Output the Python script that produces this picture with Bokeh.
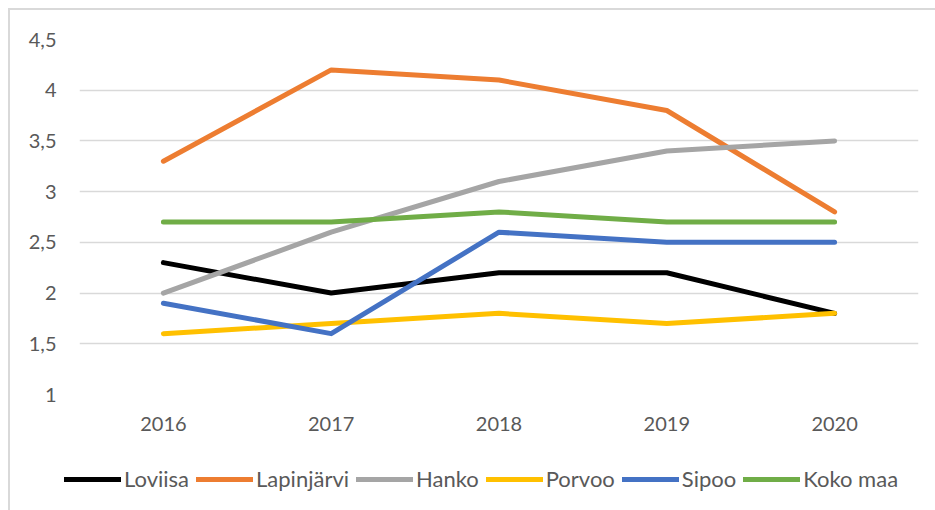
from bokeh.plotting import figure
from bokeh.layouts import column, row
from bokeh.models import FactorRange, Range1d, FixedTicker, Legend, LegendItem
from bokeh.embed import file_html
from bokeh.resources import INLINE

years = ["2016", "2017", "2018", "2019", "2020"]
loviisa = [2.3, 2.0, 2.2, 2.2, 1.8]
lapinjarvi = [3.3, 4.2, 4.1, 3.8, 2.8]
hanko = [2.0, 2.6, 3.1, 3.4, 3.5]
porvoo = [1.6, 1.7, 1.8, 1.7, 1.8]
sipoo = [1.9, 1.6, 2.6, 2.5, 2.5]
koko_maa = [2.7, 2.7, 2.8, 2.7, 2.7]

series_names = ["Loviisa", "Lapinjärvi", "Hanko", "Porvoo", "Sipoo", "Koko maa"]
series_values = [loviisa, lapinjarvi, hanko, porvoo, sipoo, koko_maa]
series_colors = ["#000000", "#ED7D31", "#A5A5A5", "#FFC000", "#4472C4", "#70AD47"]

y_ticks = [1, 1.5, 2, 2.5, 3, 3.5, 4, 4.5]
y_tick_labels = ["1", "1,5", "2", "2,5", "3", "3,5", "4", "4,5"]

FONT = "Lato"
TXT = "#595959"

# main chart
p = figure(
    x_range=FactorRange(*years, range_padding=0),
    y_range=Range1d(1, 4.5),
    width=925, height=440,
    output_backend="svg", toolbar_location=None,
    min_border_left=69, min_border_right=17, min_border_top=29, min_border_bottom=56,
)
p.outline_line_color = None
p.background_fill_color = "white"
p.border_fill_color = "white"

p.xgrid.grid_line_color = None
p.ygrid.grid_line_color = "#d9d9d9"
p.ygrid.grid_line_width = 1.5
p.ygrid.ticker = FixedTicker(ticks=y_ticks)

p.yaxis.ticker = FixedTicker(ticks=y_ticks)
p.yaxis.major_label_overrides = {t: l for t, l in zip(y_ticks, y_tick_labels)}
for ax in (p.xaxis, p.yaxis):
    ax.axis_line_color = None
    ax.major_tick_line_color = None
    ax.minor_tick_line_color = None
    ax.major_tick_out = 0
    ax.major_tick_in = 0
    ax.major_label_text_font = FONT
    ax.major_label_text_font_size = "20px"
    ax.major_label_text_color = TXT
p.yaxis.major_label_standoff = 23
p.xaxis.major_label_standoff = 22

for vals, col in zip(series_values, series_colors):
    p.line(years, vals, line_color=col, line_width=5, line_cap="round", line_join="round")

# legend strip (same series, drawn outside its visible y-range so only the legend shows)
pl = figure(
    x_range=FactorRange(*years, range_padding=0),
    y_range=Range1d(10, 11),
    width=925, height=60,
    x_axis_location=None, y_axis_location=None,
    output_backend="svg", toolbar_location=None,
    min_border_left=0, min_border_right=0, min_border_top=0, min_border_bottom=0,
)
pl.grid.grid_line_color = None
pl.outline_line_color = None
pl.border_fill_color = "white"

items = []
for name, vals, col in zip(series_names, series_values, series_colors):
    r = pl.line(years, vals, line_color=col, line_width=5, line_cap="round")
    items.append(LegendItem(label=name, renderers=[r]))

legend = Legend(
    items=items, orientation="horizontal", location=(54, 18),
    glyph_width=57, glyph_height=26, label_height=26, label_standoff=3, spacing=7,
    padding=0, margin=0, border_line_alpha=0, background_fill_alpha=0,
    label_text_font=FONT, label_text_font_size="22px", label_text_color=TXT,
)
pl.add_layout(legend, "center")

layout = column(p, row(pl), spacing=0)
layout.styles = {"margin-left": "8px", "margin-top": "8px",
                 "border-left": "2px solid #d9d9d9", "border-top": "2px solid #d9d9d9"}

open("out.html", "w").write(file_html(layout, INLINE))
